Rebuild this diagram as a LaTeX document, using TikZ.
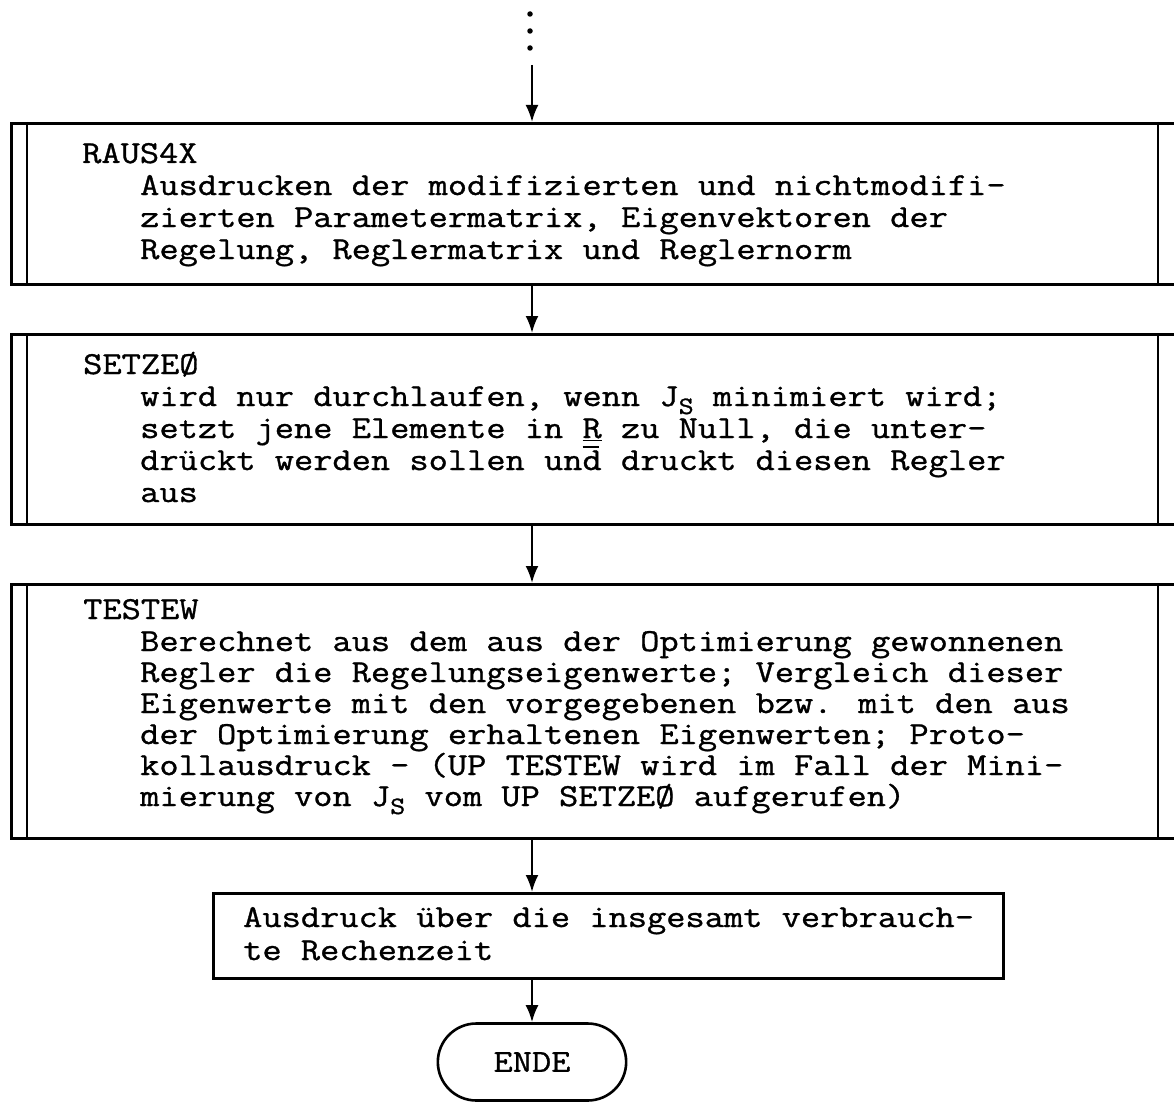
\documentclass[tikz,border=0pt]{standalone}
\usepackage{fontspec}
\newfontfamily\typew{Latin Modern Mono}[FakeStretch=1.167,FakeBold=1]
\usetikzlibrary{arrows.meta,shapes.misc}

% typewriter text: 32pt, lines 32pt apart
\newcommand\tw{\typew\fontsize{32}{32}\selectfont}
% subscript S as typed half a line lower
\newcommand\subS{\raisebox{-8pt}[0pt][0pt]{\fontsize{25}{25}\selectfont S}}
% short bar typed over a letter
\newcommand\barover[1]{\makebox[0pt][l]{\raisebox{22pt}[0pt][0pt]{\rule{16pt}{1.8pt}}}#1}

\tikzset{
  x=1pt, y=-1pt,
  frame/.style={draw, line width=2.6pt, inner sep=0pt, anchor=north west},
  subline/.style={line width=2.4pt},
  flow/.style={line width=2.3pt, -{Latex[length=17pt,width=13pt]}},
  txt/.style={anchor=base west, inner sep=0pt, font=\tw},
  dot/.style={circle, fill, inner sep=0pt, minimum size=5.5pt},
  terminal/.style={draw, line width=2.6pt, rounded rectangle,
                   minimum width=195pt, minimum height=77pt, font=\tw},
}

\begin{document}
\begin{tikzpicture}
\useasboundingbox (0,0) rectangle (1174,1102);
\fill[white] (0,0) rectangle (1174,1102);

% flow axis and incoming continuation
\coordinate (axis) at (532,0);
\node[dot] (d1) at (530,14) {};
\node[dot] (d2) at (530,31) {};
\node[dot] (d3) at (530,48) {};
\coordinate (start) at (532,65);

% ---- RAUS4X ----
\node[frame, minimum width=1190pt, minimum height=161pt] (b1) at (10,122) {};
\draw[subline] (b1.north west) ++(17,0) coordinate (b1l) -- (b1l |- b1.south);
\draw[subline] (b1.north west) ++(1148,0) coordinate (b1r) -- (b1r |- b1.south);
\node[txt] (t11) at (82,163) {RAUS4X};
\node[txt] (t12) at (140,195) {Ausdrucken der modifizierten und nichtmodifi-};
\node[txt] (t13) at (140,227) {zierten Parametermatrix, Eigenvektoren der};
\node[txt] (t14) at (140,259) {Regelung, Reglermatrix und Reglernorm};

% ---- SETZE0 ----
\node[frame, minimum width=1190pt, minimum height=190pt] (b2) at (10,333) {};
\draw[subline] (b2.north west) ++(17,0) coordinate (b2l) -- (b2l |- b2.south);
\draw[subline] (b2.north west) ++(1148,0) coordinate (b2r) -- (b2r |- b2.south);
\node[txt] (t21) at (83,374) {SETZEØ};
\node[txt] (t22) at (140,406) {wird nur durchlaufen, wenn J\subS{} minimiert wird;};
\node[txt] (t23) at (140,438) {setzt jene Elemente in \underline{R} zu Null, die unter-};
\node[txt] (t24) at (140,470) {drückt werden sollen un\barover{d} druckt diesen Regler};
\node[txt] (t25) at (140,502) {aus};

% ---- TESTEW ----
\node[frame, minimum width=1190pt, minimum height=254pt] (b3) at (10,583) {};
\draw[subline] (b3.north west) ++(17,0) coordinate (b3l) -- (b3l |- b3.south);
\draw[subline] (b3.north west) ++(1148,0) coordinate (b3r) -- (b3r |- b3.south);
\node[txt] (t31) at (83,619) {TESTEW};
\node[txt] (t32) at (140,651) {Berechnet aus dem aus der Optimierung gewonnenen};
\node[txt] (t33) at (140,682) {Regler die Regelungseigenwerte; Vergleich dieser};
\node[txt] (t34) at (140,713) {Eigenwerte mit den vorgegebenen bzw. mit den aus};
\node[txt] (t35) at (140,744) {der Optimierung erhaltenen Eigenwerten; Proto-};
\node[txt] (t36) at (140,775) {kollausdruck - (UP TESTEW wird im Fall der Mini-};
\node[txt] (t37) at (140,806) {mierung von J\subS{} vom UP SETZEØ aufgerufen)};

% ---- computing time ----
\node[frame, minimum width=790pt, minimum height=85pt] (b4) at (212,892) {};
\node[txt] (t41) at (243,927) {Ausdruck über die insgesamt verbrauch-};
\node[txt] (t42) at (243,960) {te Rechenzeit};

% ---- end ----
\node[terminal] (ende) at (532,1062) {ENDE};

% connectors
\draw[flow] (start) -- (b1.north -| axis);
\draw[flow] (b1.south -| axis) -- (b2.north -| axis);
\draw[flow] (b2.south -| axis) -- (b3.north -| axis);
\draw[flow] (b3.south -| axis) -- (b4.north -| axis);
\draw[flow] (b4.south -| axis) -- (ende.north);
\end{tikzpicture}
\end{document}
